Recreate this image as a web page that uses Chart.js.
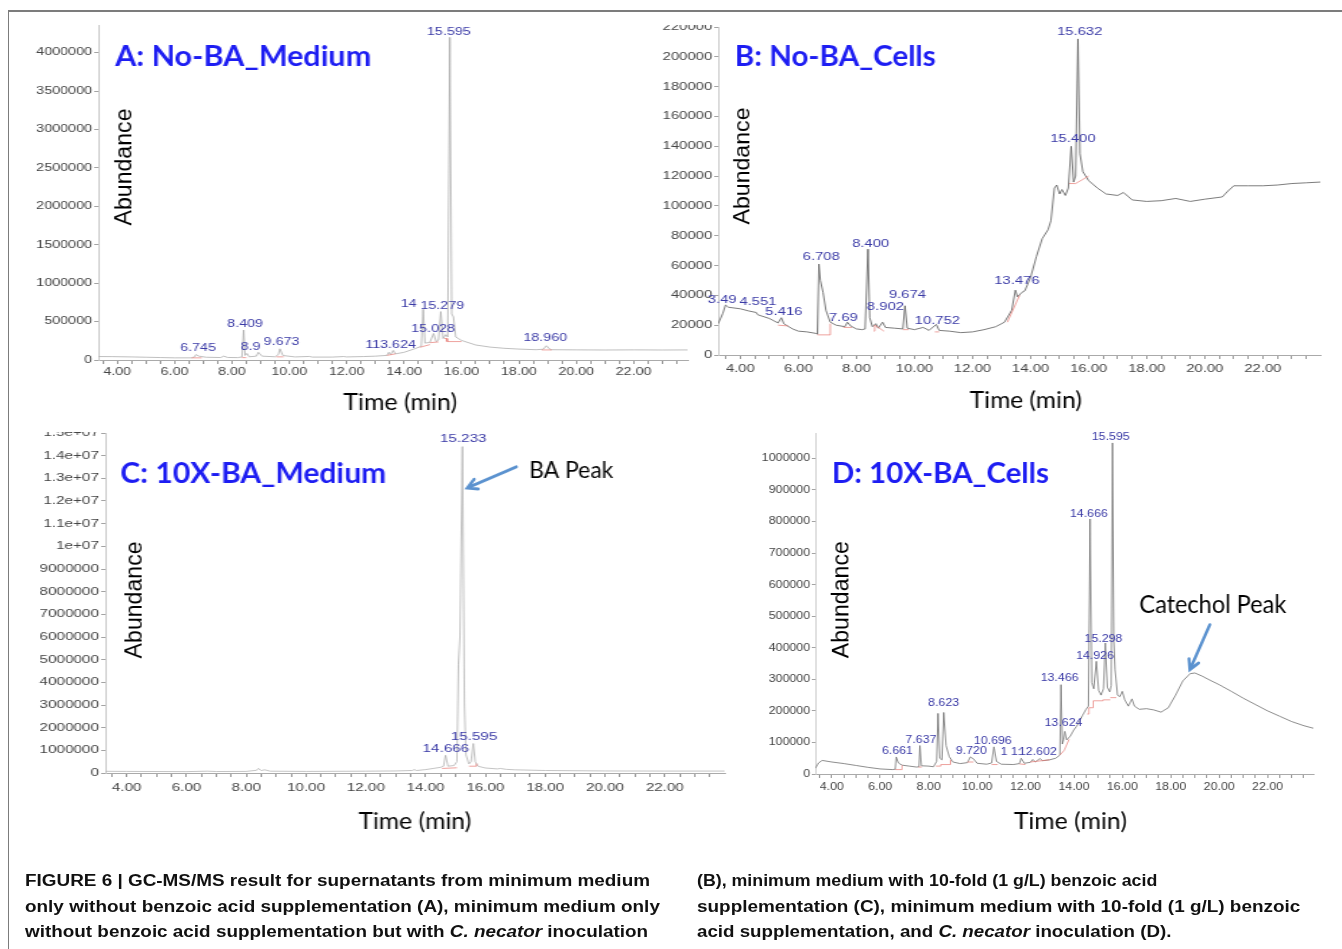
<!DOCTYPE html>
<html>
<head>
<meta charset="utf-8">
<script src="https://cdn.jsdelivr.net/npm/chart.js@4.4.1/dist/chart.umd.min.js"></script>
<style>
  html, body { margin: 0; padding: 0; background: #fff; }
  body { width: 1342px; height: 949px; position: relative; overflow: hidden; font-family: "Liberation Sans", Arial, sans-serif; }
  #frame { position: absolute; left: 8px; top: 10px; width: 1400px; height: 1000px; border-top: 2px solid #7c7c7c; border-left: 1.5px solid #7c7c7c; }
  .clip { position: absolute; left: 0; width: 1342px; overflow: hidden; }
  .clip canvas { position: absolute; transform-origin: 0 0; }
  .cap { position: absolute; font-weight: bold; font-size: 16px; line-height: 1; color: #111; white-space: nowrap; transform-origin: 0 50%; }
</style>
</head>
<body>
<div id="frame"></div>
<div id="charts"></div>

<div class="cap" data-w="625" style="left:25px;top:881px">FIGURE 6 | GC-MS/MS result for supernatants from minimum medium</div>
<div class="cap" data-w="635" style="left:25px;top:907px">only without benzoic acid supplementation (A), minimum medium only</div>
<div class="cap" data-w="623" style="left:25px;top:932px">without benzoic acid supplementation but with <i>C. necator</i> inoculation</div>
<div class="cap" data-w="460" style="left:697px;top:881px">(B), minimum medium with 10-fold (1 g/L) benzoic acid</div>
<div class="cap" data-w="603" style="left:697px;top:907px">supplementation (C), minimum medium with 10-fold (1 g/L) benzoic</div>
<div class="cap" data-w="474" style="left:697px;top:932px">acid supplementation, and <i>C. necator</i> inoculation (D).</div>

<script>
// ---- shared x axis (retention time, min) ----
const xMajorTicks = [4, 6, 8, 10, 12, 14, 16, 18, 20, 22];
const xTickLabels = ['4.00', '6.00', '8.00', '10.00', '12.00', '14.00', '16.00', '18.00', '20.00', '22.00'];

// ---- A: No-BA_Medium ----
const timeA = [3.35, 3.8, 4.5, 5.0, 5.5, 6.0, 6.6, 6.70, 6.745, 6.85, 7.1, 7.6, 7.72, 7.85, 8.2, 8.35, 8.409, 8.46, 8.52, 8.6, 8.85, 8.92, 9.05, 9.5, 9.62, 9.673, 9.78, 10.2, 10.7, 10.8, 11.5, 11.9, 12.0, 12.6, 13.0, 13.4, 13.47, 13.53, 13.624, 13.7, 14.0, 14.4, 14.6, 14.666, 14.73, 14.9, 15.028, 15.12, 15.2, 15.279, 15.36, 15.45, 15.52, 15.595, 15.66, 15.72, 15.8, 16.0, 16.5, 17.0, 17.5, 18.0, 18.6, 18.85, 18.96, 19.1, 20.0, 21.0, 22.0, 23.0, 23.9];
const abundA = [45000, 44000, 40000, 36000, 32000, 28000, 28000, 42000, 70000, 50000, 36000, 32000, 50000, 33000, 31000, 40000, 390000, 60000, 85000, 42000, 50000, 100000, 50000, 42000, 70000, 146000, 58000, 40000, 46000, 38000, 38000, 45000, 40000, 45000, 50000, 60000, 100000, 70000, 124000, 80000, 100000, 150000, 180000, 660000, 220000, 230000, 345000, 240000, 260000, 630000, 280000, 330000, 300000, 4200000, 600000, 560000, 300000, 255000, 195000, 168000, 152000, 142000, 134000, 140000, 185000, 134000, 132000, 130000, 132000, 130000, 131000];
const baseTimeA = [6.6, 6.95, 6.95, 8.35, 8.5, 8.5, 9.55, 9.8, 9.8, 13.4, 13.7, 13.7, 14.55, 14.9, 14.9, 14.9, 15.2, 15.2, 15.4, 15.5, 15.5, 16.0, 16.0, 18.8, 19.15];
const baseAbundA = [28000, 28000, null, 31000, 31000, null, 41000, 41000, null, 60000, 80000, null, 165000, 200000, null, 225000, 235000, null, 280000, 280000, 240000, 240000, null, 131000, 131000];
const peakTextA = ['15.595', '8.409', '6.745', '8.9', '9.673', '113.624', '14', '15.279', '15.028', '18.960'];
const peakTimeA = [15.56, 8.46, 6.82, 8.65, 9.73, 13.53, 14.16, 15.33, 15.01, 18.92];
const peakAbundA = [4267000, 469000, 147000, 169000, 225000, 191000, 729000, 694000, 404000, 277000];
const yTicksA = [0, 500000, 1000000, 1500000, 2000000, 2500000, 3000000, 3500000, 4000000];
const yTickLabelsA = ['0', '500000', '1000000', '1500000', '2000000', '2500000', '3000000', '3500000', '4000000'];

// ---- B: No-BA_Cells ----
const timeB = [3.24, 3.40, 3.49, 3.6, 4.0, 4.3, 4.551, 4.6, 5.0, 5.3, 5.416, 5.5, 5.8, 6.0, 6.3, 6.6, 6.66, 6.708, 6.76, 6.85, 6.95, 7.1, 7.3, 7.6, 7.69, 7.8, 8.0, 8.2, 8.3, 8.40, 8.46, 8.55, 8.669, 8.75, 8.902, 9.0, 9.3, 9.6, 9.674, 9.75, 10.0, 10.3, 10.5, 10.752, 10.85, 11.2, 11.6, 12.0, 12.4, 12.8, 13.1, 13.35, 13.476, 13.55, 13.7, 13.8, 14.0, 14.2, 14.4, 14.6, 14.7, 14.82, 14.9, 15.0, 15.08, 15.2, 15.3, 15.400, 15.48, 15.55, 15.632, 15.70, 15.8, 16.0, 16.3, 16.6, 17.0, 17.2, 17.5, 18.0, 18.5, 19.0, 19.5, 20.0, 20.6, 20.8, 21.0, 21.5, 22.0, 22.5, 23.0, 23.5, 23.98];
const abundB = [21000, 28000, 33500, 32000, 31000, 29500, 28500, 27000, 24500, 21500, 25000, 21000, 17500, 16000, 15500, 14500, 14000, 61000, 50000, 42000, 30000, 22000, 20000, 19000, 22000, 19500, 17500, 17000, 17500, 71000, 25000, 19000, 21000, 18000, 22000, 18500, 18000, 17500, 33000, 18000, 17000, 18500, 16500, 20500, 16500, 16000, 15000, 15500, 17000, 19000, 22000, 30000, 43500, 39000, 42000, 43000, 52000, 66000, 78000, 84000, 90000, 112000, 114000, 108000, 111000, 107000, 112000, 140000, 116000, 120000, 212000, 135000, 123000, 117000, 112000, 108000, 107000, 109000, 104000, 103000, 103500, 105000, 103000, 104500, 106000, 110000, 113500, 113500, 113500, 114000, 115000, 115500, 116000];
const baseTimeB = [5.3, 5.65, 5.65, 6.66, 7.1, 7.1, 7.1, 7.55, 7.85, 7.85, 8.6, 8.63, 8.63, 8.95, 8.95, 9.6, 9.8, 9.8, 10.7, 10.85, 10.85, 13.2, 13.62, 13.62, 15.33, 15.55, 15.55, 16.0];
const baseAbundB = [20000, 19500, null, 13500, 13500, 21000, null, 18500, 18500, null, 16000, 16000, 20000, 16000, null, 17000, 17000, null, 15500, 15500, null, 22000, 40000, null, 115000, 115000, 115000, 120000];
const peakTextB = ['15.632', '15.400', '6.708', '8.400', '13.476', '9.674', '8.902', '3.49', '4.551', '5.416', '7.69', '10.752'];
const peakTimeB = [15.69, 15.46, 6.79, 8.49, 13.53, 9.76, 9.0, 3.38, 4.61, 5.5, 7.55, 10.79];
const peakAbundB = [216600, 144800, 65800, 74700, 49400, 40400, 32100, 37000, 35500, 28700, 24700, 22900];
const yTicksB = [0, 20000, 40000, 60000, 80000, 100000, 120000, 140000, 160000, 180000, 200000, 220000];
const yTickLabelsB = ['0', '20000', '40000', '60000', '80000', '100000', '120000', '140000', '160000', '180000', '200000', '220000'];

// ---- C: 10X-BA_Medium ----
const timeC = [3.29, 4.0, 6.0, 6.7, 7.0, 8.0, 8.35, 8.41, 8.5, 8.62, 8.8, 10.0, 12.0, 13.0, 13.55, 13.62, 13.7, 14.0, 14.5, 14.6, 14.666, 14.75, 14.95, 15.05, 15.1, 15.15, 15.233, 15.3, 15.35, 15.45, 15.52, 15.595, 15.66, 15.75, 16.0, 16.4, 16.5, 16.7, 17.0, 18.0, 20.0, 22.0, 24.0];
const abundC = [75000, 70000, 60000, 80000, 65000, 70000, 120000, 200000, 110000, 140000, 80000, 70000, 80000, 90000, 110000, 150000, 110000, 150000, 250000, 300000, 780000, 300000, 330000, 500000, 4800000, 6000000, 14400000, 3000000, 800000, 400000, 500000, 1300000, 500000, 300000, 220000, 180000, 200000, 160000, 140000, 110000, 90000, 85000, 85000];
const baseTimeC = [14.55, 15.05, 15.05, 15.45, 15.7, 15.7];
const baseAbundC = [200000, 230000, null, 300000, 300000, 420000];
const peakTextC = ['15.233', '15.595', '14.666'];
const peakTimeC = [15.26, 15.62, 14.68];
const peakAbundC = [14730000, 1600000, 1056000];
const yTicksC = [0, 1000000, 2000000, 3000000, 4000000, 5000000, 6000000, 7000000, 8000000, 9000000, 10000000, 11000000, 12000000, 13000000, 14000000, 15000000];
const yTickLabelsC = ['0', '1000000', '2000000', '3000000', '4000000', '5000000', '6000000', '7000000', '8000000', '9000000', '1e+07', '1.1e+07', '1.2e+07', '1.3e+07', '1.4e+07', '1.5e+07'];

// ---- D: 10X-BA_Cells ----
const timeD = [3.32, 3.45, 3.6, 4.0, 4.5, 5.0, 5.5, 6.0, 6.5, 6.62, 6.661, 6.75, 6.9, 7.2, 7.5, 7.6, 7.637, 7.7, 8.0, 8.2, 8.33, 8.386, 8.46, 8.55, 8.623, 8.72, 8.85, 9.0, 9.3, 9.6, 9.72, 9.85, 10.0, 10.4, 10.6, 10.696, 10.8, 11.0, 11.5, 11.75, 11.82, 11.95, 12.2, 12.3, 12.4, 12.602, 12.7, 13.0, 13.25, 13.42, 13.466, 13.52, 13.58, 13.624, 13.7, 13.85, 14.0, 14.1, 14.2, 14.35, 14.5, 14.6, 14.666, 14.74, 14.82, 14.926, 15.02, 15.12, 15.22, 15.298, 15.38, 15.48, 15.54, 15.595, 15.65, 15.7, 15.8, 15.9, 16.0, 16.1, 16.25, 16.4, 16.5, 16.7, 17.0, 17.3, 17.6, 17.9, 18.2, 18.5, 18.8, 19.0, 19.3, 19.6, 20.0, 20.5, 21.0, 21.5, 22.0, 22.5, 23.0, 23.5, 23.89];
const abundD = [18000, 35000, 43000, 38000, 33000, 27000, 21000, 16000, 14000, 15000, 54000, 35000, 28000, 25000, 22000, 23000, 90000, 26000, 25000, 23000, 40000, 192000, 50000, 45000, 195000, 90000, 55000, 38000, 33000, 36000, 54000, 48000, 34000, 31000, 35000, 86000, 40000, 31000, 30000, 33000, 50000, 34000, 37000, 46000, 38000, 49000, 42000, 45000, 50000, 60000, 283000, 95000, 110000, 135000, 108000, 120000, 140000, 150000, 162000, 185000, 205000, 215000, 808000, 290000, 270000, 357000, 265000, 250000, 270000, 415000, 275000, 260000, 280000, 1049000, 420000, 330000, 250000, 245000, 262000, 235000, 215000, 238000, 215000, 205000, 207000, 203000, 196000, 210000, 250000, 295000, 318000, 320000, 310000, 298000, 283000, 262000, 240000, 220000, 200000, 183000, 166000, 153000, 145000];
const baseTimeD = [6.62, 6.9, 6.9, 6.9, 7.58, 7.72, 7.72, 8.3, 8.5, 8.5, 8.9, 8.9, 8.9, 9.6, 9.85, 9.85, 10.6, 10.85, 10.85, 11.75, 12.0, 12.0, 12.2, 13.0, 13.0, 13.42, 13.6, 13.8, 13.8, 14.55, 14.62, 14.62, 14.8, 14.8, 15.2, 15.2, 15.5, 15.5, 15.5, 15.75];
const baseAbundD = [14000, 14000, 28000, null, 22000, 22000, null, 25000, 25000, 30000, 30000, 45000, null, 38000, 38000, null, 30000, 30000, null, 32000, 30000, null, 38000, 45000, null, 60000, 75000, 110000, null, 190000, 190000, 210000, 210000, 232000, 232000, 235000, 235000, null, 242000, 242000];
const peakTextD = ['15.595', '14.666', '15.298', '14.926', '13.466', '8.623', '13.624', '7.637', '10.696', '6.661', '9.720', '1 1:', '12.602'];
const peakTimeD = [15.52, 14.62, 15.22, 14.87, 13.41, 8.62, 13.57, 7.68, 10.65, 6.71, 9.76, 11.4, 12.51];
const peakAbundD = [1069000, 824500, 427600, 374600, 302700, 224400, 161000, 108000, 104800, 73000, 73000, 69000, 68800];
const yTicksD = [0, 100000, 200000, 300000, 400000, 500000, 600000, 700000, 800000, 900000, 1000000];
const yTickLabelsD = ['0', '100000', '200000', '300000', '400000', '500000', '600000', '700000', '800000', '900000', '1000000'];

// ---- layout (page pixels) ----
const PAD_TOP = 12, PAD_RIGHT = 6, PAD_BOTTOM = 60, X_AXIS_H = 26, Y_AXIS_W = 52;
const FONT = '"Liberation Sans", Arial, sans-serif';
const TITLE_BLUE = '#1d1df2';
const PEAK_BLUE = '#3a3aa6';
const ARROW_BLUE = '#5b92cf';

const panels = [
  {
    time: timeA, abund: abundA, baseTime: baseTimeA, baseAbund: baseAbundA,
    peakText: peakTextA, peakTime: peakTimeA, peakAbund: peakAbundA,
    yTicks: yTicksA, yTickLabels: yTickLabelsA,
    xMin: 3.345, xMax: 23.88, yMax: 4361000,
    area: { left: 98.2, right: 688, top: 25, bottom: 359.5 }, clipTop: 0,
    stretch: 1.43, fontSize: 10, xPad: 2, lineColor: '#a9a9a9', lineWidth: 0.75,
    title: { text: 'A: No-BA_Medium', x: 243, y: 66, w: 256 },
    yTitle: { x: 131, y: 167 }, xTitle: { x: 400, y: 410, w: 114 }
  },
  {
    time: timeB, abund: abundB, baseTime: baseTimeB, baseAbund: baseAbundB,
    peakText: peakTextB, peakTime: peakTimeB, peakAbund: peakAbundB,
    yTicks: yTicksB, yTickLabels: yTickLabelsB,
    xMin: 3.24, xMax: 23.98, yMax: 220000,
    area: { left: 718.4, right: 1320, top: 27, bottom: 355 }, clipTop: 25,
    stretch: 1.35, fontSize: 11, xPad: 3.8, lineColor: '#5a5a5a', lineWidth: 0.8,
    title: { text: 'B: No-BA_Cells', x: 835.5, y: 66, w: 201 },
    yTitle: { x: 750, y: 166 }, xTitle: { x: 1026, y: 408, w: 112 }
  },
  {
    time: timeC, abund: abundC, baseTime: baseTimeC, baseAbund: baseAbundC,
    peakText: peakTextC, peakTime: peakTimeC, peakAbund: peakAbundC,
    yTicks: yTicksC, yTickLabels: yTickLabelsC,
    xMin: 3.29, xMax: 24.0, yMax: 15000000,
    area: { left: 105.1, right: 724.3, top: 433.1, bottom: 772.7 }, clipTop: 431.5,
    stretch: 1.45, fontSize: 10.5, xPad: 4.5, lineColor: '#b0b0b0', lineWidth: 0.75,
    title: { text: 'C: 10X-BA_Medium', x: 253, y: 483, w: 266 },
    yTitle: { x: 141, y: 600 }, xTitle: { x: 414.5, y: 829, w: 113 },
    note: { text: 'BA Peak', x: 571, y: 478, w: 84, size: 23 },
    arrow: { from: [516, 467], to: [467, 488] }
  },
  {
    time: timeD, abund: abundD, baseTime: baseTimeD, baseAbund: baseAbundD,
    peakText: peakTextD, peakTime: peakTimeD, peakAbund: peakAbundD,
    yTicks: yTicksD, yTickLabels: yTickLabelsD,
    xMin: 3.32, xMax: 23.89, yMax: 1080500,
    area: { left: 815.5, right: 1313, top: 433.3, bottom: 774.3 }, clipTop: 0,
    stretch: 1.18, fontSize: 10.5, xPad: 2.7, lineColor: '#707070', lineWidth: 0.8,
    title: { text: 'D: 10X-BA_Cells', x: 940.5, y: 483, w: 217 },
    yTitle: { x: 848, y: 600 }, xTitle: { x: 1070.5, y: 829, w: 113 },
    note: { text: 'Catechol Peak', x: 1213, y: 613, w: 147, size: 25 },
    arrow: { from: [1210, 625], to: [1190, 670] }
  }
];

// half-minute tick marks, labels only on the even minutes
const xTickValues = [];
for (let t = 3.5; t <= 23.5; t += 0.5) xTickValues.push(t);

function toPoints(xs, ys) {
  return xs.map((x, i) => ({ x: x, y: ys[i] }));
}

// text squeezed or stretched to a given width, in page pixels
function fitText(ctx, text, x, y, w) {
  const natural = ctx.measureText(text).width;
  ctx.save();
  ctx.translate(x, y);
  ctx.scale(w / natural, 1);
  ctx.fillText(text, 0, 0);
  ctx.restore();
}

function drawArrow(ctx, from, to) {
  const ang = Math.atan2(to[1] - from[1], to[0] - from[0]);
  const head = 11;
  ctx.strokeStyle = ARROW_BLUE;
  ctx.lineWidth = 3;
  ctx.lineCap = 'round';
  ctx.beginPath();
  ctx.moveTo(from[0], from[1]);
  ctx.lineTo(to[0], to[1]);
  ctx.moveTo(to[0] - head * Math.cos(ang - 0.5), to[1] - head * Math.sin(ang - 0.5));
  ctx.lineTo(to[0], to[1]);
  ctx.lineTo(to[0] - head * Math.cos(ang + 0.5), to[1] - head * Math.sin(ang + 0.5));
  ctx.stroke();
}

const overlay = {
  id: 'overlay',
  afterDatasetsDraw(chart) {
    const p = chart.config.options.panel;
    const { ctx, scales: { x, y } } = chart;
    ctx.save();
    // peak labels live in the (stretched) chromatogram space
    ctx.font = p.fontSize + 'px ' + FONT;
    ctx.fillStyle = PEAK_BLUE;
    ctx.textAlign = 'center';
    ctx.textBaseline = 'middle';
    p.peakText.forEach((t, i) => {
      ctx.fillText(t, x.getPixelForValue(p.peakTime[i]), y.getPixelForValue(p.peakAbund[i]));
    });

    // everything else is drawn unstretched, in page coordinates
    ctx.scale(1 / p.stretch, 1);
    ctx.translate(-p.canvasLeft, -p.canvasTop);
    ctx.textBaseline = 'alphabetic';

    ctx.fillStyle = TITLE_BLUE;
    ctx.font = 'bold 29px Lato, "Open Sans", sans-serif';
    fitText(ctx, p.title.text, p.title.x, p.title.y, p.title.w);

    ctx.fillStyle = '#000';
    ctx.font = '23px ' + FONT;
    ctx.save();
    ctx.translate(p.yTitle.x, p.yTitle.y);
    ctx.rotate(-Math.PI / 2);
    fitText(ctx, 'Abundance', 0, 0, 117);
    ctx.restore();

    ctx.font = '23px Lato, "Open Sans", sans-serif';
    fitText(ctx, 'Time (min)', p.xTitle.x, p.xTitle.y, p.xTitle.w);

    if (p.note) {
      ctx.font = p.note.size + 'px Lato, "Open Sans", sans-serif';
      fitText(ctx, p.note.text, p.note.x, p.note.y, p.note.w);
      drawArrow(ctx, p.arrow.from, p.arrow.to);
    }
    ctx.restore();
  }
};

function buildPanel(p) {
  const S = p.stretch;
  const wrap = document.createElement('div');
  wrap.className = 'clip';
  wrap.style.top = p.clipTop + 'px';
  wrap.style.height = (949 - p.clipTop) + 'px';
  const canvas = document.createElement('canvas');
  const cw = Math.round(Y_AXIS_W + (p.area.right - p.area.left) / S + PAD_RIGHT);
  const ch = Math.round(PAD_TOP + (p.area.bottom - p.area.top) + X_AXIS_H + PAD_BOTTOM);
  p.canvasLeft = p.area.left - S * Y_AXIS_W;
  p.canvasTop = p.area.top - PAD_TOP;
  canvas.width = cw;
  canvas.height = ch;
  canvas.style.left = p.canvasLeft + 'px';
  canvas.style.top = (p.canvasTop - p.clipTop) + 'px';
  canvas.style.transform = 'scaleX(' + S + ')';
  wrap.appendChild(canvas);
  document.getElementById('charts').appendChild(wrap);

  const tickFont = { family: FONT, size: p.fontSize };
  new Chart(canvas, {
    type: 'line',
    data: {
      datasets: [
        { data: toPoints(p.baseTime, p.baseAbund), borderColor: '#e67a74', borderWidth: 0.7, pointRadius: 0, spanGaps: false },
        { data: toPoints(p.time, p.abund), borderColor: p.lineColor, borderWidth: p.lineWidth, pointRadius: 0, tension: 0 }
      ]
    },
    options: {
      panel: p,
      responsive: false,
      animation: false,
      events: [],
      layout: { padding: { top: PAD_TOP, right: PAD_RIGHT, bottom: PAD_BOTTOM, left: 0 } },
      plugins: { legend: { display: false }, tooltip: { enabled: false } },
      scales: {
        x: {
          type: 'linear', min: p.xMin, max: p.xMax,
          afterBuildTicks: s => { s.ticks = xTickValues.map(v => ({ value: v })); },
          afterFit: s => { s.height = X_AXIS_H; },
          ticks: {
            autoSkip: false, maxRotation: 0, minRotation: 0, padding: p.xPad,
            color: '#444', font: tickFont,
            callback: v => {
              const i = xMajorTicks.indexOf(v);
              return i < 0 ? '' : xTickLabels[i];
            }
          },
          grid: { drawOnChartArea: false, tickLength: 4, color: '#999' },
          border: { color: '#aaa' }
        },
        y: {
          type: 'linear', min: 0, max: p.yMax,
          afterBuildTicks: s => { s.ticks = p.yTicks.map(v => ({ value: v })); },
          afterFit: s => { s.width = Y_AXIS_W; },
          ticks: {
            autoSkip: false, padding: 1.5, color: '#444', font: tickFont,
            callback: (v, i) => p.yTickLabels[i]
          },
          grid: { drawOnChartArea: false, tickLength: 3, color: '#a4a4a4' },
          border: { color: '#cacaca' }
        }
      }
    },
    plugins: [overlay]
  });
}

panels.forEach(buildPanel);

// caption lines, each fitted to its width in the figure
document.querySelectorAll('.cap').forEach(el => {
  const target = parseFloat(el.dataset.w);
  const natural = el.offsetWidth;
  el.style.transform = 'translateY(-50%) scaleX(' + (target / natural) + ')';
});
</script>
</body>
</html>
